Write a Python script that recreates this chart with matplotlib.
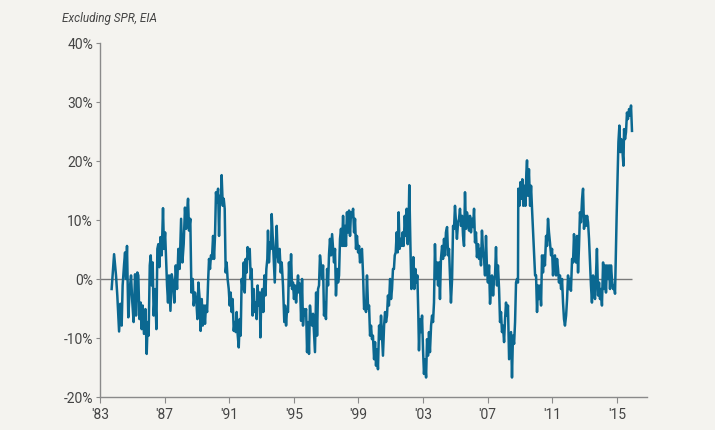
import matplotlib.pyplot as plt
import numpy as np

# weekly-ish readings of commercial crude stocks vs 5-yr average (%)
years = [
    1983.72, 1983.87, 1983.99, 1984.07, 1984.18, 1984.26, 1984.34, 1984.40, 1984.49, 1984.55,
    1984.61, 1984.67, 1984.75, 1984.84, 1984.92, 1985.00, 1985.08, 1985.17, 1985.23, 1985.31,
    1985.37, 1985.44, 1985.52, 1985.58, 1985.64, 1985.72, 1985.81, 1985.89, 1985.95, 1986.01,
    1986.08, 1986.14, 1986.20, 1986.26, 1986.32, 1986.41, 1986.49, 1986.55, 1986.61, 1986.67,
    1986.74, 1986.82, 1986.90, 1986.96, 1987.03, 1987.09, 1987.15, 1987.21, 1987.27, 1987.36,
    1987.44, 1987.52, 1987.60, 1987.69, 1987.77, 1987.85, 1987.93, 1988.02, 1988.10, 1988.18,
    1988.26, 1988.33, 1988.39, 1988.45, 1988.51, 1988.59, 1988.66, 1988.74, 1988.80,
    1988.88, 1988.97, 1989.03, 1989.09, 1989.17, 1989.23, 1989.30, 1989.36, 1989.44, 1989.50,
    1989.56, 1989.63, 1989.69, 1989.75, 1989.81, 1989.87, 1989.93, 1990.00, 1990.06, 1990.12,
    1990.18, 1990.24, 1990.31, 1990.37, 1990.43, 1990.49, 1990.53, 1990.60, 1990.66, 1990.72,
    1990.78, 1990.84, 1990.90, 1990.97, 1991.03, 1991.09, 1991.15, 1991.21, 1991.28, 1991.34,
    1991.40, 1991.46, 1991.52, 1991.59, 1991.65, 1991.71, 1991.77, 1991.83, 1991.90, 1991.96,
    1992.02, 1992.08, 1992.14, 1992.21, 1992.27, 1992.33, 1992.39, 1992.45, 1992.52, 1992.58,
    1992.64, 1992.70, 1992.76, 1992.82, 1992.89, 1992.93, 1992.99, 1993.05, 1993.11, 1993.18,
    1993.24, 1993.30, 1993.36, 1993.40, 1993.46, 1993.53, 1993.59, 1993.63, 1993.69, 1993.75,
    1993.82, 1993.88, 1993.94, 1994.00, 1994.06, 1994.12, 1994.19, 1994.25, 1994.33, 1994.41,
    1994.46, 1994.52, 1994.58, 1994.64, 1994.70, 1994.76, 1994.83, 1994.89, 1994.95, 1995.01,
    1995.07, 1995.14, 1995.20, 1995.26, 1995.32, 1995.38, 1995.45, 1995.51, 1995.57, 1995.63,
    1995.69, 1995.76, 1995.82, 1995.88, 1995.94, 1996.00, 1996.07, 1996.13, 1996.19, 1996.25,
    1996.31, 1996.38, 1996.44, 1996.50, 1996.56, 1996.62, 1996.68, 1996.75, 1996.81, 1996.87,
    1996.93, 1996.99, 1997.06, 1997.12, 1997.18, 1997.24, 1997.30, 1997.37, 1997.43, 1997.49,
    1997.55, 1997.61, 1997.68, 1997.74, 1997.80, 1997.86, 1997.92, 1997.99, 1998.05, 1998.11,
    1998.17, 1998.23, 1998.29, 1998.36, 1998.42, 1998.48, 1998.54, 1998.60, 1998.67, 1998.73,
    1998.79, 1998.85, 1998.91, 1998.98, 1999.04, 1999.10, 1999.16, 1999.22, 1999.29, 1999.35,
    1999.41, 1999.47, 1999.53, 1999.60, 1999.66, 1999.72, 1999.78, 1999.84, 1999.90, 1999.97,
    2000.03, 2000.09, 2000.15, 2000.21, 2000.28, 2000.34, 2000.40, 2000.46, 2000.52, 2000.59,
    2000.65, 2000.71, 2000.77, 2000.83, 2000.89, 2000.96, 2001.02, 2001.08, 2001.14, 2001.20,
    2001.25, 2001.31, 2001.37, 2001.43, 2001.49, 2001.55, 2001.62, 2001.68, 2001.74, 2001.80,
    2001.87, 2001.93, 2001.99, 2002.05, 2002.11, 2002.15, 2002.22, 2002.28, 2002.34, 2002.40,
    2002.46, 2002.53, 2002.59, 2002.65, 2002.71, 2002.75, 2002.81, 2002.88, 2002.94, 2003.00,
    2003.06, 2003.12, 2003.19, 2003.25, 2003.31, 2003.37, 2003.43, 2003.50, 2003.56, 2003.62,
    2003.68, 2003.74, 2003.80, 2003.87, 2003.93, 2003.99, 2004.05, 2004.11, 2004.18, 2004.24,
    2004.30, 2004.36, 2004.42, 2004.49, 2004.55, 2004.61, 2004.67, 2004.73, 2004.80, 2004.86,
    2004.92, 2004.98, 2005.04, 2005.10, 2005.17, 2005.23, 2005.29, 2005.35, 2005.42, 2005.48,
    2005.54,
    2005.60, 2005.66, 2005.72, 2005.79, 2005.85, 2005.91, 2005.97, 2006.03, 2006.10, 2006.16,
    2006.22, 2006.28, 2006.34, 2006.41, 2006.47, 2006.53, 2006.59, 2006.65, 2006.72, 2006.78,
    2006.84, 2006.90, 2006.96, 2007.02, 2007.09, 2007.15, 2007.21, 2007.27, 2007.34, 2007.40,
    2007.46, 2007.52, 2007.58, 2007.64, 2007.71, 2007.77, 2007.83, 2007.89, 2007.95, 2008.02,
    2008.08, 2008.14, 2008.20, 2008.26, 2008.33, 2008.39, 2008.45, 2008.51, 2008.57, 2008.64,
    2008.70, 2008.76, 2008.82, 2008.88, 2008.90, 2008.97, 2009.03, 2009.09, 2009.15, 2009.21,
    2009.28, 2009.34, 2009.40, 2009.44, 2009.50, 2009.56, 2009.63, 2009.69, 2009.75, 2009.94,
    2010.00, 2010.06, 2010.12, 2010.18, 2010.25, 2010.31, 2010.37, 2010.43, 2010.49, 2010.55,
    2010.62, 2010.68, 2010.74, 2010.80, 2010.86, 2010.93, 2010.99, 2011.05, 2011.11,
    2011.17, 2011.24, 2011.30, 2011.36, 2011.42, 2011.48, 2011.55, 2011.61, 2011.67, 2011.73,
    2011.79, 2011.86, 2011.92, 2011.98, 2012.04, 2012.10, 2012.16, 2012.23, 2012.29, 2012.35,
    2012.41, 2012.47, 2012.54, 2012.60, 2012.66, 2012.72, 2012.78, 2012.85, 2012.91, 2012.97,
    2013.03, 2013.09, 2013.16, 2013.22, 2013.28, 2013.40, 2013.46, 2013.53, 2013.59, 2013.65,
    2013.71, 2013.77, 2013.84, 2013.90, 2013.96, 2014.02, 2014.08, 2014.15, 2014.21, 2014.27,
    2014.33, 2014.39, 2014.46, 2014.52, 2014.58, 2014.64, 2014.70, 2014.77, 2014.83, 2014.89,
    2014.99, 2015.10, 2015.16, 2015.22, 2015.28, 2015.34, 2015.41, 2015.45, 2015.51, 2015.57,
    2015.63, 2015.69, 2015.76, 2015.82, 2015.88, 2015.94,
]

stocks_pct = [
    -1.7, 4.2, 0.6, -2.8, -8.9, -4.2, -7.9, -1.1, 2.5, 4.5,
    0.0, 5.6, -6.5, -1.7, 0.6, -4.0, -7.3, 0.8, -6.2, 1.1,
    0.6, -6.8, -4.0, -8.5, -4.5, -9.3, -5.1, -12.7, -7.3, -9.6,
    2.3, 4.0, -1.1, 2.8, -6.2, -1.7, -8.5, 5.1, 5.9, 2.0,
    7.1, 4.0, 12.0, 5.1, 7.9, 3.4, -1.1, -4.0, 0.6, -5.4,
    0.8, -0.6, -4.0, 2.3, -1.7, 5.1, 1.7, 10.2, 2.8, 5.9,
    12.1, 8.5, 11.3, 13.6, 8.2, 10.2, -2.3, 0.0, -4.5,
    -2.3, -4.0, -6.8, -0.6, -3.4, -8.8, -3.4, -7.9, -4.5, -7.6,
    -4.5, -5.6, -0.6, 3.4, 1.7, 4.0, 3.4, 7.3, 3.4, 7.3,
    14.7, 13.0, 15.3, 7.3, 14.1, 13.0, 17.6, 12.4, 13.6, 11.9,
    1.1, 2.8, 0.0, -1.7, -4.5, -2.3, -5.6, -3.4, -8.8, -7.3,
    -9.0, -5.6, -9.3, -11.6, -6.8, -9.6, 0.0, -1.7, 2.8, -2.3,
    3.4, 1.1, 5.4, 3.4, 5.1, 0.0, 1.7, -6.2, -1.7, -5.6,
    -4.0, -6.8, -1.1, -4.5, -2.3, -9.9, -2.8, -1.7, -5.6, 0.6,
    -2.8, 1.7, 3.4, 8.2, 2.8, 6.2, 5.1, 11.0, 7.3, 3.4,
    -0.6, 5.6, 9.0, 4.0, 2.8, 5.1, 1.1, 2.8, -1.1, -7.3,
    -4.5, -7.9, -5.1, -5.6, 2.8, -1.1, 4.2, -1.7, -0.6, -3.4,
    -1.1, -4.0, -1.7, 0.6, -2.3, -0.8, -7.1, 0.0, -7.9, -5.1,
    -6.2, -5.1, -12.4, -7.3, -12.7, -4.5, -7.3, -7.9, -5.9, -9.0,
    -12.4, -2.3, -9.6, -1.7, -1.1, 4.0, 2.3, 0.0, 2.3, -6.2,
    -4.0, -6.8, 1.7, -1.1, 4.2, 6.8, 4.0, 7.6, 5.1, 2.8,
    5.1, -2.8, 1.7, -0.6, 0.6, 6.8, 8.5, 5.6, 10.7, 5.6,
    9.0, 5.6, 11.3, 7.9, 11.6, 7.3, 11.3, 10.5, 11.9, 7.9,
    10.2, 5.1, 7.3, 4.5, 5.6, 2.8, 4.5, 5.1, 0.6, -5.1,
    -4.0, -5.6, 0.6, -5.1, -4.5, -9.6, -7.9, -10.2, -9.6, -13.6,
    -10.7, -14.7, -11.9, -15.3, -7.9, -10.2, -6.2, -9.6, -13.0, -7.9,
    -5.6, -7.3, -6.2, -2.8, -4.5, 0.0, -3.4, -1.7, 1.7, 1.7,
    4.0, 4.5, 7.9, 4.5, 11.3, 5.1, 6.8, 5.6, 7.9, 5.6,
    10.7, 7.3, 11.9, 5.9, 9.6, 15.9, 5.6, -1.7, 0.0, 3.7,
    -1.7, 1.7, -0.6, 0.6, -6.2, -12.1, -6.8, -9.0, -6.2, -11.9,
    -16.1, -13.6, -16.7, -10.2, -13.0, -9.0, -12.4, -7.9, -6.2, -7.3,
    -4.0, 5.9, 0.0, 2.8, -1.1, 2.8, -3.4, 3.4, 5.6, 3.4,
    6.8, 4.0, 7.9, 8.8, 4.0, 5.1, 0.6, -4.0, 0.0, 9.0,
    8.5, 12.4, 9.6, 6.8, 9.6, 10.2, 11.9, 9.0, 10.7, 7.3,
    5.6,
    14.7, 8.5, 11.3, 10.2, 8.2, 10.7, 7.9, 10.2, 8.8, 11.9,
    6.2, 7.9, 3.7, 5.9, 3.4, 5.1, 2.3, 8.2, 4.5, 3.4,
    0.6, 7.3, 1.7, -0.6, 2.3, -4.2, -1.1, 0.6, -2.8, 0.0,
    0.6, 5.4, -1.1, 2.3, -1.7, -7.3, -5.6, -9.0, -7.9, -10.7,
    -6.8, -4.0, -6.2, -4.5, -13.6, -11.3, -9.0, -16.7, -9.6, -11.0,
    -7.3, -0.6, 0.0, -0.6, 15.3, 12.4, 16.4, 13.6, 16.9, 12.4,
    15.8, 12.4, 18.1, 20.1, 14.1, 18.6, 12.4, 15.8, 11.9, 0.6,
    0.6, -5.6, -1.1, -3.4, -1.1, -4.5, 4.0, 1.1, 4.0, 2.3,
    7.3, 5.6, 10.2, 7.9, 6.2, 4.0, 5.1, 0.6, 3.4,
    4.0, 0.6, 3.4, 1.7, -0.6, 0.6, -1.7, 0.0, -4.0, -6.8,
    -7.9, -6.2, -3.4, 0.6, -1.7, 0.0, -2.0, 3.4, 2.8, 7.6,
    4.0, 2.8, 7.3, 1.1, 5.6, 11.3, 9.6, 13.6, 15.3, 8.5,
    10.7, 9.0, 10.7, 9.6, 6.8, -1.1, -4.0, 0.6, -1.7, -3.4,
    0.6, 5.1, -2.8, -0.6, -3.4, -1.7, -4.5, 2.8, -1.7, 2.3,
    -2.3, 2.3, 0.0, 2.3, -1.7, 2.3, 0.0, -1.7, -1.1, -2.5,
    10.7, 23.2, 26.0, 21.5, 23.7, 22.0, 19.2, 25.4, 23.7, 24.9,
    28.2, 27.1, 28.8, 27.7, 29.4, 25.1,
]

tick_years = [1983, 1987, 1991, 1995, 1999, 2003, 2007, 2011, 2015]
tick_labels = ["'83", "'87", "'91", "'95", "'99", "'03", "'07", "'11", "'15"]
y_ticks = [-20, -10, 0, 10, 20, 30, 40]

bg = '#f4f3ef'
line_col = '#0b6891'
axis_col = '#8a8a8a'
text_col = '#444444'

plt.rcParams['font.family'] = ['Roboto', 'DejaVu Sans']

fig = plt.figure(figsize=(7.15, 4.31), dpi=100, facecolor=bg)
ax = fig.add_axes([0.1399, 0.0766, 0.765, 0.8214])
ax.set_facecolor(bg)

ax.hlines(0, tick_years[0], years[-1], color='#7a7a7a', lw=1.0, zorder=1)
ax.plot(years, stocks_pct, color=line_col, lw=1.8, zorder=2)

ax.set_xlim(1983, 2016.87)
ax.set_ylim(-20, 40)
ax.set_xticks(tick_years)
ax.set_xticklabels(tick_labels)
ax.set_yticks(y_ticks)
ax.set_yticklabels(['%d%%' % v for v in y_ticks])

for s in ['top', 'right']:
    ax.spines[s].set_visible(False)
for s in ['left', 'bottom']:
    ax.spines[s].set_color(axis_col)
    ax.spines[s].set_linewidth(1.0)

ax.tick_params(axis='y', length=3, width=0.8, color=axis_col, labelcolor=text_col,
               labelsize=10, pad=2)
ax.tick_params(axis='x', length=4, width=0.8, color=axis_col, labelcolor=text_col,
               labelsize=10, pad=3)

fig.text(0.087, 0.958, 'Excluding SPR, EIA', style='italic', fontsize=8.5,
         color=text_col, ha='left', va='center')

fig.savefig('out.png', dpi=100, facecolor=bg)
